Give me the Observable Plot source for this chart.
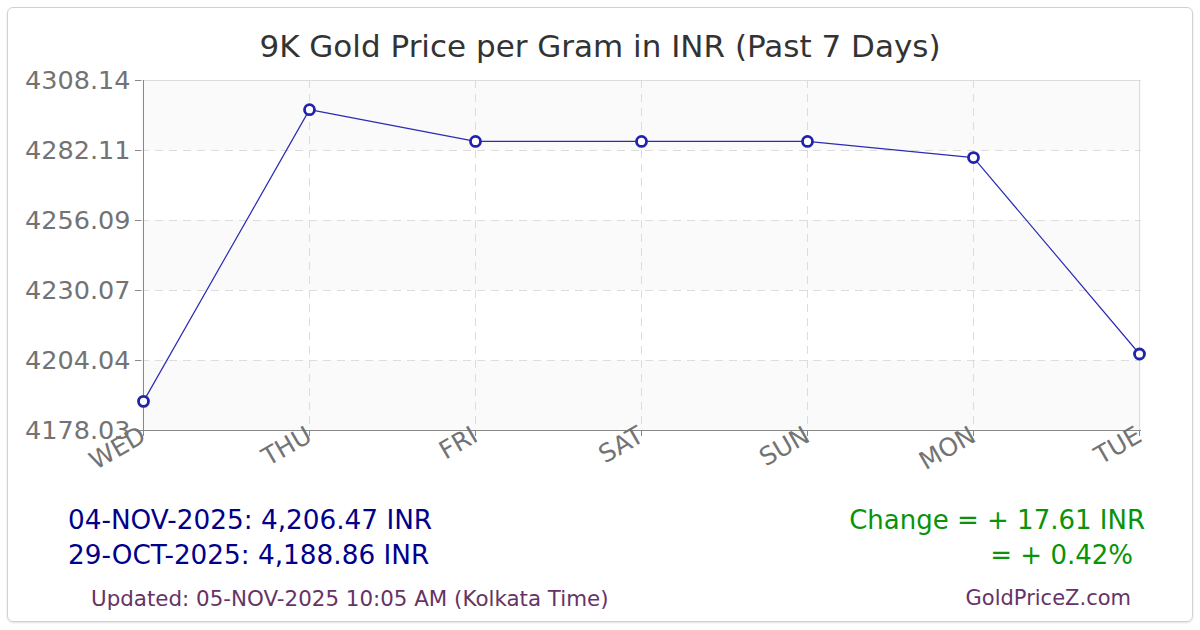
<!DOCTYPE html>
<html>
<head>
<meta charset="utf-8">
<script src="https://cdn.jsdelivr.net/npm/d3@7"></script>
<script src="https://cdn.jsdelivr.net/npm/@observablehq/plot@0.6"></script>
<style>
  html, body { margin: 0; padding: 0; background: #fff; }
  #wrap { position: relative; width: 1200px; height: 630px; overflow: hidden; font-family: "DejaVu Sans", sans-serif; }
  #box { position: absolute; left: 7px; top: 7px; width: 1184px; height: 613px; border: 1px solid #d0d0d0; border-radius: 6px; box-shadow: 0 1px 2px rgba(0,0,0,0.12); }
  #chart { position: absolute; left: 0; top: 0; }
  .t { position: absolute; white-space: nowrap; line-height: 1; }
</style>
</head>
<body>
<div id="wrap">
  <div id="box"></div>
  <div id="chart"></div>
  <div class="t" id="title" style="left:0;width:1200px;text-align:center;top:31px;font-size:31px;color:#333;">9K Gold Price per Gram in INR (Past 7 Days)</div>
  <div class="t" style="left:68px;top:507px;font-size:26.3px;color:#00008b;">04-NOV-2025: 4,206.47 INR</div>
  <div class="t" style="left:68px;top:542px;font-size:26.3px;color:#00008b;">29-OCT-2025: 4,188.86 INR</div>
  <div class="t" style="right:55px;top:507px;font-size:26px;color:#089408;">Change = + 17.61 INR</div>
  <div class="t" style="right:67px;top:542px;font-size:26px;color:#089408;">= + 0.42%</div>
  <div class="t" style="left:91px;top:588px;font-size:21.4px;color:#663366;">Updated: 05-NOV-2025 10:05 AM (Kolkata Time)</div>
  <div class="t" style="right:69px;top:588px;font-size:21px;color:#663366;">GoldPriceZ.com</div>
</div>
<script>
const days = ["WED", "THU", "FRI", "SAT", "SUN", "MON", "TUE"];
const prices = [4188.86, 4297.30, 4285.50, 4285.50, 4285.50, 4279.50, 4206.47];
const yTicks = [4178.03, 4204.04, 4230.07, 4256.09, 4282.11, 4308.14];

const data = days.map((d, i) => ({day: d, price: prices[i]}));
const bands = [0, 2, 4].map(i => ({lo: yTicks[i], hi: yTicks[i + 1]}));
const yMin = yTicks[0], yMax = yTicks[yTicks.length - 1];

const chart = Plot.plot({
  width: 1200,
  height: 480,
  marginLeft: 141,
  marginRight: 59,
  marginTop: 80,
  marginBottom: 50,
  style: {fontFamily: "DejaVu Sans, sans-serif", background: "transparent", overflow: "visible"},
  x: {type: "point", domain: days, padding: 0, label: null},
  y: {domain: [yMin, yMax], label: null},
  marks: [
    Plot.rect(bands, {y1: "lo", y2: "hi", fill: "#fafafa"}),
    Plot.gridY(yTicks, {stroke: "#dcdcdc", strokeOpacity: 1, strokeDasharray: "8,6"}),
    Plot.gridX(days, {stroke: "#dcdcdc", strokeOpacity: 1, strokeDasharray: "8,6"}),
    Plot.ruleY([yMax], {stroke: "#dcdcdc"}),
    Plot.ruleX([days[days.length - 1]], {stroke: "#dcdcdc"}),
    Plot.axisY(yTicks, {tickSize: 6, tickPadding: 5, fontSize: 25.5, color: "#737373", stroke: "#888", label: null, tickFormat: d => d.toFixed(2)}),
    Plot.axisX(days, {tickSize: 6, stroke: "#888", label: null, tickFormat: () => ""}),
    Plot.ruleX([days[0]], {stroke: "#888"}),
    Plot.ruleY([yMin], {stroke: "#888"}),
    Plot.text(days, {x: d => d, frameAnchor: "bottom", text: d => d, rotate: -30, textAnchor: "end", lineAnchor: "middle", dy: 3, fontSize: 25, fill: "#737373"}),
    Plot.line(data, {x: "day", y: "price", stroke: "#2b2bb5", strokeWidth: 1.2}),
    Plot.dot(data, {x: "day", y: "price", r: 5, stroke: "#2222aa", strokeWidth: 2.8, fill: "white"})
  ]
});
document.getElementById("chart").appendChild(chart);
</script>
</body>
</html>
